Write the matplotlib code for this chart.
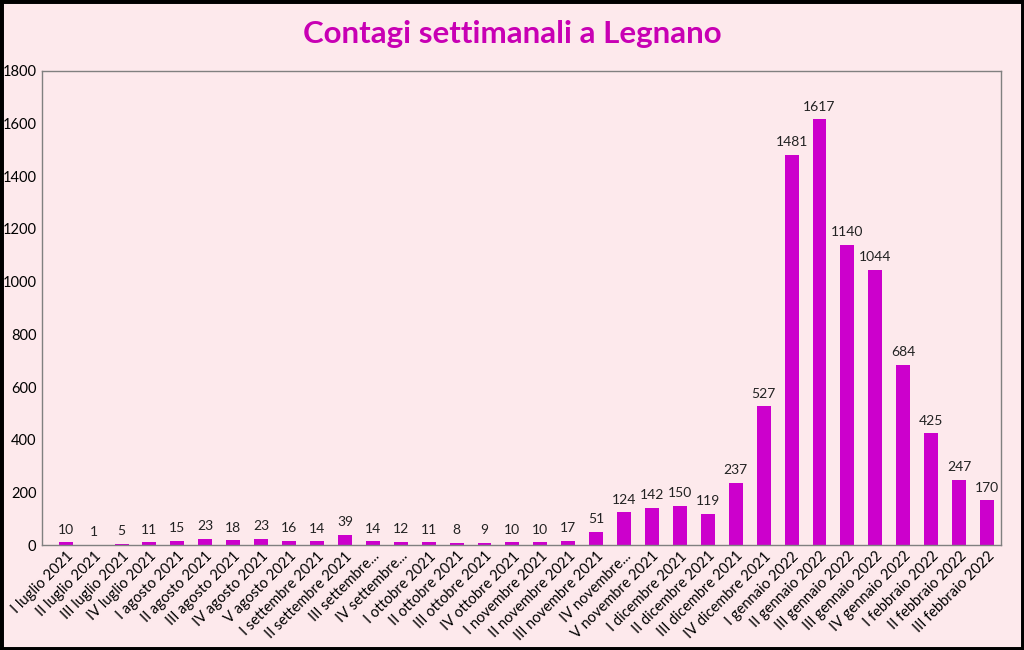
import numpy as np
import matplotlib
matplotlib.use('Agg')
from matplotlib import pyplot as plt
from matplotlib.patches import Rectangle

settimane = ['I luglio 2021', 'II luglio 2021', 'III luglio 2021', 'IV luglio 2021',
	'I agosto 2021', 'II agosto 2021', 'III agosto 2021', 'IV agosto 2021', 'V agosto 2021',
	'I settembre 2021', 'II settembre 2021', 'III settembre...', 'IV settembre...',
	'I ottobre 2021', 'II ottobre 2021', 'III ottobre 2021', 'IV ottobre 2021',
	'I novembre 2021', 'II novembre 2021', 'III novembre 2021', 'IV novembre...', 'V novembre 2021',
	'I dicembre 2021', 'II dicembre 2021', 'III dicembre 2021', 'IV dicembre 2021',
	'I gennaio 2022', 'II gennaio 2022', 'III gennaio 2022', 'III gennaio 2022', 'IV gennaio 2022',
	'I febbraio 2022', 'II febbraio 2022', 'III febbraio 2022']

contagi = [10, 1, 5, 11, 15, 23, 18, 23, 16, 14, 39, 14, 12, 11, 8, 9, 10, 10, 17, 51,
	124, 142, 150, 119, 237, 527, 1481, 1617, 1140, 1044, 684, 425, 247, 170]

plt.rcParams['font.family'] = ['Lato', 'DejaVu Sans']

sfondo = '#FDE9EC'
magenta = '#CC00CC'

fig = plt.figure(figsize=(10.24, 6.5), dpi=100, facecolor=sfondo)
ax = fig.add_axes([0.041, 0.1615, 0.9365, 0.7293])
ax.set_facecolor(sfondo)

x = np.arange(len(contagi))
ax.bar(x, contagi, width=0.5, color=magenta)

for xi, v in zip(x, contagi):
	ax.text(xi, v + 25, str(v), ha='center', va='bottom', fontsize=10, color='#222222')

ax.set_xlim(-0.85, len(contagi) - 0.5)
ax.set_ylim(0, 1800)
ax.set_yticks(np.arange(0, 1801, 200))
ax.tick_params(axis='y', length=0, labelsize=10.5, pad=4)
ax.tick_params(axis='x', length=0, pad=3)
ax.set_xticks(x)
ax.set_xticklabels(settimane, rotation=45, ha='right', rotation_mode='anchor', fontsize=10.5)

for s in ax.spines.values():
	s.set_color('#808080')
	s.set_linewidth(1)

fig.text(0.5, 0.948, 'Contagi settimanali a Legnano', ha='center', va='center',
	fontsize=22.5, fontweight='bold', color='#C800B4')

fig.patches.append(Rectangle((0, 0), 1, 1, transform=fig.transFigure, fill=False,
	edgecolor='black', linewidth=5))

fig.savefig('out.png', dpi=100, facecolor=sfondo)
